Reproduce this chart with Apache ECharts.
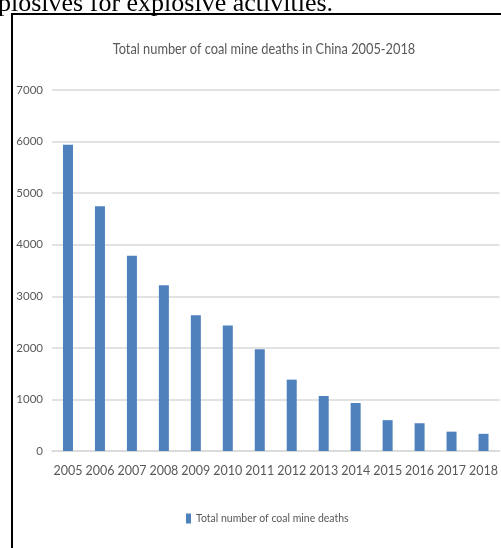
<!DOCTYPE html>
<html>
<head>
<meta charset="utf-8">
<script src="https://cdn.jsdelivr.net/npm/echarts@6/dist/echarts.min.js"></script>
<style>
  html, body { margin: 0; padding: 0; background: #fff; }
  #chart { width: 501px; height: 548px; }
</style>
</head>
<body>
<div id="chart"></div>
<script>
const years = ['2005', '2006', '2007', '2008', '2009', '2010', '2011', '2012', '2013', '2014', '2015', '2016', '2017', '2018'];
const deaths = [5938, 4746, 3786, 3215, 2631, 2433, 1973, 1384, 1067, 931, 598, 538, 375, 333];
const seriesName = 'Total number of coal mine deaths';
const titleText = 'Total number of coal mine deaths in China 2005-2018';

// no condensed sans installed, Lato is the narrowest one
const labelFont = 'Lato, sans-serif';
const labelColor = '#595959';

const chart = echarts.init(document.getElementById('chart'));
chart.setOption({
  backgroundColor: '#fff',
  animation: false,
  graphic: [
    {
      type: 'text',
      left: -2,
      top: -9,
      style: {
        text: 'plosives for explosive activities.',
        font: '26px "Liberation Serif", "DejaVu Serif", serif',
        fill: '#000',
      },
    },
    {
      type: 'rect',
      shape: { x: 12, y: 14, width: 520, height: 560 },
      style: { fill: 'none', stroke: '#000', lineWidth: 2 },
    },
    {
      // title squeezed horizontally to look like the narrow original font
      type: 'text',
      x: 264,
      y: 49,
      scaleX: 0.8,
      style: {
        text: titleText,
        font: '16px Lato, sans-serif',
        fill: labelColor,
        align: 'center',
        verticalAlign: 'middle',
      },
    },
  ],
  legend: {
    bottom: 19,
    left: 181,
    itemWidth: 5,
    itemHeight: 10,
    itemGap: 4,
    icon: 'rect',
    textStyle: { fontFamily: labelFont, fontSize: 10.5, color: labelColor },
    data: [seriesName],
  },
  grid: { left: 52, right: 1, top: 90, bottom: 97 },
  xAxis: {
    type: 'category',
    data: years,
    axisTick: { show: false },
    axisLine: { lineStyle: { color: '#d9d9d9', width: 1.5 } },
    axisLabel: { fontFamily: labelFont, fontSize: 12.5, color: labelColor, margin: 13, interval: 0 },
  },
  yAxis: {
    type: 'value',
    min: 0,
    max: 7000,
    interval: 1000,
    axisLine: { show: false },
    axisTick: { show: false },
    axisLabel: {
      fontFamily: labelFont,
      fontSize: 11.5,
      color: labelColor,
      margin: 9,
      formatter: (v) => String(v),
    },
    splitLine: { lineStyle: { color: '#d9d9d9', width: 1.5 } },
  },
  series: [
    {
      name: seriesName,
      type: 'bar',
      data: deaths,
      barWidth: 10,
      itemStyle: { color: '#4f81bd' },
    },
  ],
});
</script>
</body>
</html>
